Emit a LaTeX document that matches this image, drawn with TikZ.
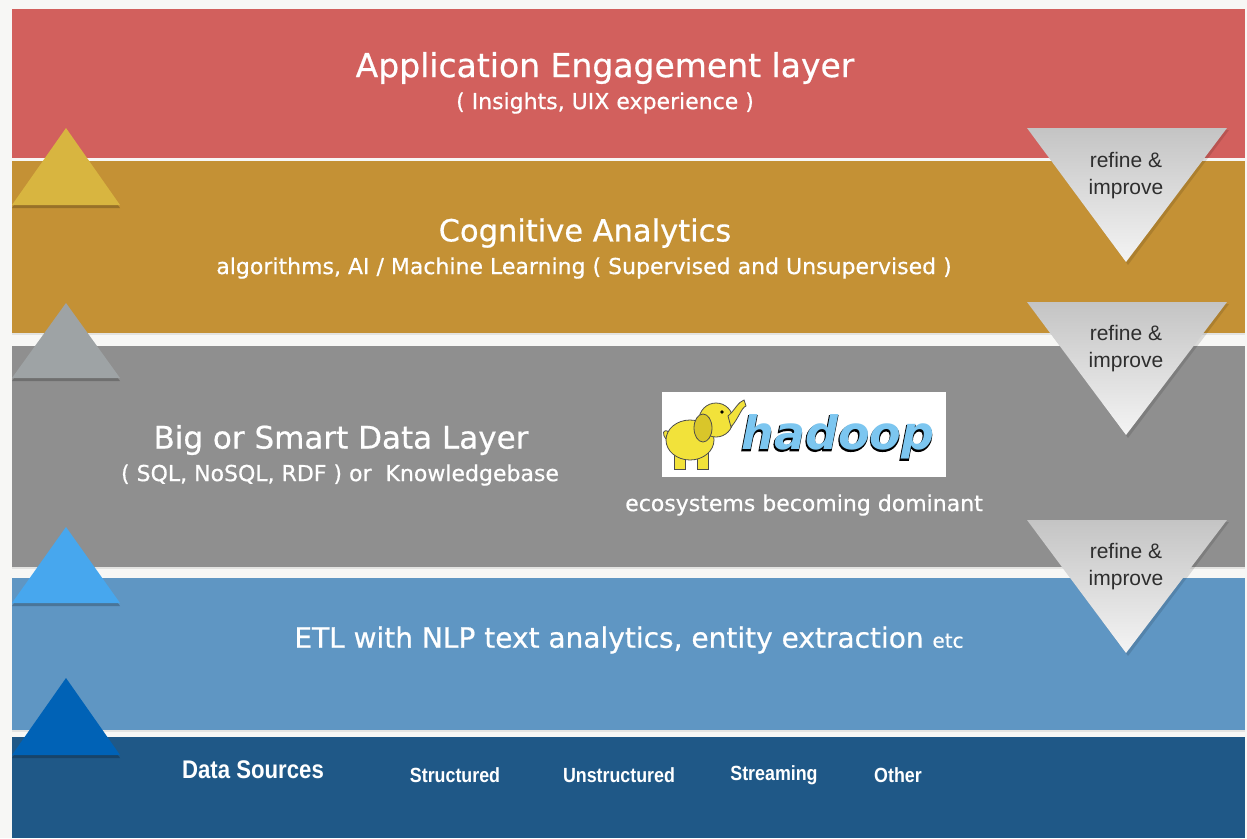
\documentclass[tikz,border=0pt]{standalone}
\usepackage{fontspec}
\setmainfont[FakeBold=0.6]{DejaVu Sans}
\newfontfamily\helv{Liberation Sans}
\newfontfamily\condb[FakeStretch=0.87]{Liberation Sans}
\newfontfamily\hadfont{DejaVu Sans}
\newfontfamily\hadfontout[FakeBold=3]{DejaVu Sans}
\definecolor{bgc}{HTML}{F7F7F5}
\definecolor{redband}{HTML}{D2605D}
\definecolor{goldband}{HTML}{C49135}
\definecolor{grayband}{HTML}{8F8F8F}
\definecolor{lblueband}{HTML}{5F96C3}
\definecolor{dblueband}{HTML}{1F5887}
\definecolor{triyel}{HTML}{D8B540}
\definecolor{trigray}{HTML}{9EA3A5}
\definecolor{trilblue}{HTML}{47A7EE}
\definecolor{tridblue}{HTML}{0062B6}
\definecolor{reftop}{HTML}{C4C4C4}
\definecolor{refbot}{HTML}{F4F4F4}
\definecolor{reftxt}{HTML}{2E2E2E}
\definecolor{hblue}{HTML}{7CC6F0}
\definecolor{eleph}{HTML}{F2E23A}
\definecolor{elephd}{HTML}{D9C62A}
\begin{document}
\begin{tikzpicture}[x=1pt,y=-1pt,
  headtxt/.style={text=white,inner sep=0pt,font=\fontsize{30.5}{36}\selectfont},
  subtxt/.style={text=white,inner sep=0pt,font=\fontsize{22}{26}\selectfont},
  reftext/.style={text=reftxt,inner sep=0pt,align=center,font=\helv\fontsize{21}{27}\selectfont},
  srcmain/.style={text=white,inner sep=0pt,font=\condb\bfseries\fontsize{25.5}{30}\selectfont},
  srcitem/.style={text=white,inner sep=0pt,font=\condb\bfseries\fontsize{20.5}{24}\selectfont},
  shadowtri/.style={fill=black,opacity=0.22},
  hadtxt/.style={inner sep=0pt,font=\hadfont\bfseries\itshape\fontsize{46}{50}\selectfont},
  hadout/.style={inner sep=0pt,font=\hadfontout\bfseries\itshape\fontsize{46}{50}\selectfont}
]
\useasboundingbox (0,0) rectangle (1247,838);
\fill[bgc] (0,0) rectangle (1247,838);

% bands
\fill[redband] (12,9) rectangle (1245,158);
\fill[goldband] (12,161) rectangle (1245,333);
\fill[grayband] (12,346) rectangle (1245,567);
\fill[lblueband] (12,578) rectangle (1245,730);
\fill[dblueband] (12,737) rectangle (1245,838);
% subtle gap shadows
\fill[black,opacity=0.08] (12,333) rectangle (1245,335);
\fill[black,opacity=0.08] (12,567) rectangle (1245,569);
\fill[black,opacity=0.08] (12,730) rectangle (1245,732);

% left up triangles
\foreach \ty/\tb/\col in {128/205/triyel,303/378/trigray,527/603/trilblue,678/755/tridblue}{
  \fill[shadowtri] (12,\tb+3) -- (66,\ty+3) -- (120,\tb+3) -- cycle;
  \fill[\col] (12,\tb) -- (66,\ty) -- (120,\tb) -- cycle;
}

% right refine triangles
\foreach \ty/\tb in {128/262,302/435,520/653}{
  \fill[shadowtri,opacity=0.12] (1029,\ty+2) -- (1229,\ty+2) -- (1128,\tb+3) -- cycle;
  \shade[top color=reftop,bottom color=refbot] (1027,\ty) -- (1227,\ty) -- (1126,\tb) -- cycle;
}
\node[reftext] (ref1) at (1126,176) {refine \&\\improve};
\node[reftext] (ref2) at (1126,349) {refine \&\\improve};
\node[reftext] (ref3) at (1126,567) {refine \&\\improve};

% layer texts
\node[headtxt,font=\fontsize{33}{38}\selectfont] (app) at (605,68) {Application Engagement layer};
\node[subtxt] (appsub) at (605,103) {( Insights, UIX experience )};
\node[headtxt] (cog) at (585,233) {Cognitive Analytics};
\node[subtxt] (cogsub) at (584,268) {algorithms, AI / Machine Learning ( Supervised and Unsupervised )};
\node[headtxt,font=\fontsize{31}{36}\selectfont] (big) at (341,440) {Big or Smart Data Layer};
\node[subtxt] (bigsub) at (340,475) {( SQL, NoSQL, RDF ) or\ \ Knowledgebase};
\node[subtxt] (eco) at (804,505) {ecosystems becoming dominant};
\node[headtxt,font=\fontsize{28}{34}\selectfont] (etl) at (629,640) {ETL with NLP text analytics, entity extraction {\fontsize{20}{24}\selectfont etc}};

% data sources
\node[srcmain] (ds) at (253,770) {Data Sources};
\node[srcitem] (s1) at (455,775) {Structured};
\node[srcitem] (s2) at (619,775) {Unstructured};
\node[srcitem] (s3) at (774,775) {Streaming};
\node[srcitem] (s4) at (898,775) {Other};

% hadoop logo
\fill[white] (662,392) rectangle (946,477);
% elephant
\begin{scope}[draw=black!70,line width=0.8pt]
  \filldraw[fill=eleph] (667,440) .. controls (661,434) and (663,428) .. (669,432);
  \filldraw[fill=eleph] (674,452) rectangle (685,469);
  \filldraw[fill=eleph] (697,452) rectangle (708,469);
  \filldraw[fill=eleph] (690,440) ellipse [x radius=24, y radius=20];
  \filldraw[fill=eleph] (716,420) circle [radius=17];
  \filldraw[fill=elephd] (703,428) ellipse [x radius=9, y radius=14];
  \filldraw[fill=eleph] (728,416) .. controls (735,410) and (738,402) .. (744,400)
     -- (746,406) .. controls (741,408) and (739,418) .. (731,427) -- cycle;
  \fill[black] (722,412) circle [radius=1.8];
\end{scope}
% hadoop word with dark outline
\node[hadout,text=black] (hadshadow) at (837,438) {hadoop};
\node[hadtxt,text=hblue] (hadoop) at (838,437) {hadoop};
\end{tikzpicture}
\end{document}
